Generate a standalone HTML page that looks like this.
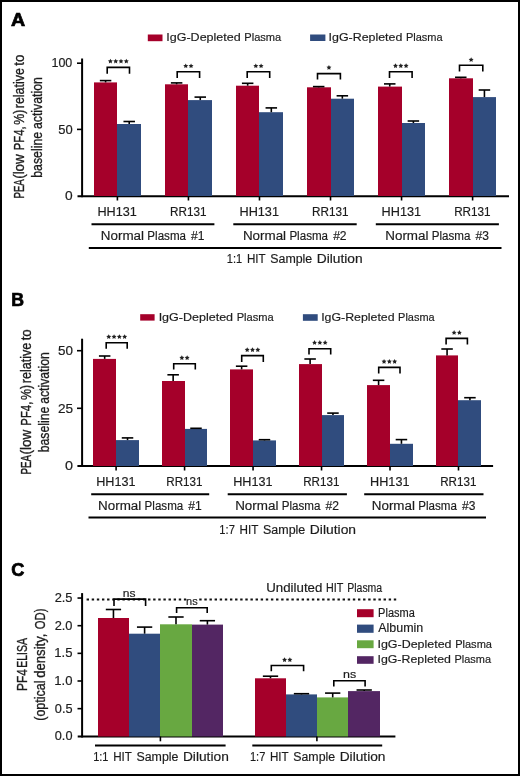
<!DOCTYPE html>
<html><head><meta charset="utf-8"><style>
html,body{margin:0;padding:0;background:#fff;}
body{width:520px;height:776px;overflow:hidden;}
svg{display:block;font-family:"Liberation Sans", sans-serif;}
text{filter:grayscale(1);}
</style></head><body>
<svg width="520" height="776" viewBox="0 0 520 776">
<rect x="0" y="0" width="520" height="776" fill="#fff"/>
<text x="10.93" y="26.30" font-size="18" font-weight="bold" fill="#000" stroke="#000" stroke-width="0.7" textLength="14.19" lengthAdjust="spacingAndGlyphs">A</text>
<rect x="147.80" y="34.50" width="14.70" height="6.70" fill="#a5002a"/>
<text x="166.25" y="40.90" font-size="11.8" fill="#1c1c1c" stroke="#1c1c1c" stroke-width="0.18" textLength="74.45" lengthAdjust="spacingAndGlyphs">IgG-Depleted</text>
<text x="244.29" y="40.90" font-size="11.8" fill="#1c1c1c" stroke="#1c1c1c" stroke-width="0.18" textLength="37.00" lengthAdjust="spacingAndGlyphs">Plasma</text>
<rect x="310.10" y="34.50" width="15.30" height="6.50" fill="#304c7e"/>
<text x="328.56" y="40.90" font-size="11.8" fill="#1c1c1c" stroke="#1c1c1c" stroke-width="0.18" textLength="73.80" lengthAdjust="spacingAndGlyphs">IgG-Repleted</text>
<text x="405.91" y="40.90" font-size="11.8" fill="#1c1c1c" stroke="#1c1c1c" stroke-width="0.18" textLength="36.68" lengthAdjust="spacingAndGlyphs">Plasma</text>
<text x="24.30" y="198.60" font-size="15" fill="#1c1c1c" stroke="#1c1c1c" stroke-width="0.35" textLength="19.44" lengthAdjust="spacingAndGlyphs" transform="rotate(-90 24.30 198.60)">PEA</text>
<text x="24.30" y="178.82" font-size="15" fill="#1c1c1c" stroke="#1c1c1c" stroke-width="0.35" textLength="24.60" lengthAdjust="spacingAndGlyphs" transform="rotate(-90 24.30 178.82)">(low</text>
<text x="24.30" y="150.23" font-size="15" fill="#1c1c1c" stroke="#1c1c1c" stroke-width="0.35" textLength="23.74" lengthAdjust="spacingAndGlyphs" transform="rotate(-90 24.30 150.23)">PF4,</text>
<text x="24.30" y="124.74" font-size="15" fill="#1c1c1c" stroke="#1c1c1c" stroke-width="0.35" textLength="15.04" lengthAdjust="spacingAndGlyphs" transform="rotate(-90 24.30 124.74)">%)</text>
<text x="24.30" y="108.20" font-size="15" fill="#1c1c1c" stroke="#1c1c1c" stroke-width="0.35" textLength="40.10" lengthAdjust="spacingAndGlyphs" transform="rotate(-90 24.30 108.20)">relative</text>
<text x="24.30" y="65.75" font-size="15" fill="#1c1c1c" stroke="#1c1c1c" stroke-width="0.35" textLength="10.99" lengthAdjust="spacingAndGlyphs" transform="rotate(-90 24.30 65.75)">to</text>
<text x="42.20" y="177.79" font-size="15" fill="#1c1c1c" stroke="#1c1c1c" stroke-width="0.35" textLength="45.93" lengthAdjust="spacingAndGlyphs" transform="rotate(-90 42.20 177.79)">baseline</text>
<text x="42.20" y="129.02" font-size="15" fill="#1c1c1c" stroke="#1c1c1c" stroke-width="0.35" textLength="51.91" lengthAdjust="spacingAndGlyphs" transform="rotate(-90 42.20 129.02)">activation</text>
<line x1="82.10" y1="58.50" x2="82.10" y2="197.20" stroke="#000" stroke-width="2"/>
<line x1="77.50" y1="196.30" x2="509.00" y2="196.30" stroke="#000" stroke-width="2"/>
<line x1="77.00" y1="63.20" x2="82.00" y2="63.20" stroke="#000" stroke-width="1.6"/>
<line x1="77.00" y1="129.40" x2="82.00" y2="129.40" stroke="#000" stroke-width="1.6"/>
<text x="51.45" y="67.00" font-size="12" fill="#1c1c1c" stroke="#1c1c1c" stroke-width="0.18" textLength="20.83" lengthAdjust="spacingAndGlyphs">100</text>
<text x="58.28" y="133.50" font-size="12" fill="#1c1c1c" stroke="#1c1c1c" stroke-width="0.18" textLength="14.41" lengthAdjust="spacingAndGlyphs">50</text>
<text x="65.06" y="199.60" font-size="12" fill="#1c1c1c" stroke="#1c1c1c" stroke-width="0.18" textLength="7.66" lengthAdjust="spacingAndGlyphs">0</text>
<rect x="94.00" y="82.40" width="23.00" height="113.60" fill="#a5002a"/>
<rect x="117.00" y="124.00" width="24.00" height="72.00" fill="#304c7e"/>
<line x1="105.58" y1="82.40" x2="105.58" y2="80.60" stroke="#000" stroke-width="1.6"/>
<line x1="99.83" y1="80.60" x2="111.33" y2="80.60" stroke="#000" stroke-width="1.6"/>
<line x1="129.22" y1="124.00" x2="129.22" y2="121.50" stroke="#000" stroke-width="1.6"/>
<line x1="123.47" y1="121.50" x2="134.97" y2="121.50" stroke="#000" stroke-width="1.6"/>
<line x1="117.40" y1="196.00" x2="117.40" y2="200.50" stroke="#000" stroke-width="1.6"/>
<text x="97.46" y="216.20" font-size="12.5" fill="#1c1c1c" stroke="#1c1c1c" stroke-width="0.18" textLength="39.44" lengthAdjust="spacingAndGlyphs">HH131</text>
<polyline points="107.20,73.80 107.20,67.40 129.50,67.40 129.50,73.80" fill="none" stroke="#000" stroke-width="1.6"/>
<polygon points="110.40,58.70 111.16,60.25 112.87,60.50 111.64,61.70 111.93,63.40 110.40,62.60 108.87,63.40 109.16,61.70 107.93,60.50 109.64,60.25" fill="#222"/>
<polygon points="115.70,58.70 116.46,60.25 118.17,60.50 116.94,61.70 117.23,63.40 115.70,62.60 114.17,63.40 114.46,61.70 113.23,60.50 114.94,60.25" fill="#222"/>
<polygon points="121.00,58.70 121.76,60.25 123.47,60.50 122.24,61.70 122.53,63.40 121.00,62.60 119.47,63.40 119.76,61.70 118.53,60.50 120.24,60.25" fill="#222"/>
<polygon points="126.30,58.70 127.06,60.25 128.77,60.50 127.54,61.70 127.83,63.40 126.30,62.60 124.77,63.40 125.06,61.70 123.83,60.50 125.54,60.25" fill="#222"/>
<rect x="165.00" y="84.30" width="23.00" height="111.70" fill="#a5002a"/>
<rect x="188.00" y="100.10" width="24.00" height="95.90" fill="#304c7e"/>
<line x1="176.62" y1="84.30" x2="176.62" y2="82.90" stroke="#000" stroke-width="1.6"/>
<line x1="170.87" y1="82.90" x2="182.37" y2="82.90" stroke="#000" stroke-width="1.6"/>
<line x1="200.26" y1="100.10" x2="200.26" y2="97.10" stroke="#000" stroke-width="1.6"/>
<line x1="194.51" y1="97.10" x2="206.01" y2="97.10" stroke="#000" stroke-width="1.6"/>
<line x1="188.44" y1="196.00" x2="188.44" y2="200.50" stroke="#000" stroke-width="1.6"/>
<text x="169.98" y="216.20" font-size="12.5" fill="#1c1c1c" stroke="#1c1c1c" stroke-width="0.18" textLength="36.52" lengthAdjust="spacingAndGlyphs">RR131</text>
<polyline points="177.20,77.90 177.20,71.80 199.60,71.80 199.60,77.90" fill="none" stroke="#000" stroke-width="1.6"/>
<polygon points="185.75,63.40 186.51,64.95 188.22,65.20 186.99,66.40 187.28,68.10 185.75,67.30 184.22,68.10 184.51,66.40 183.28,65.20 184.99,64.95" fill="#222"/>
<polygon points="191.05,63.40 191.81,64.95 193.52,65.20 192.29,66.40 192.58,68.10 191.05,67.30 189.52,68.10 189.81,66.40 188.58,65.20 190.29,64.95" fill="#222"/>
<rect x="236.00" y="85.70" width="23.00" height="110.30" fill="#a5002a"/>
<rect x="259.00" y="112.20" width="24.00" height="83.80" fill="#304c7e"/>
<line x1="247.66" y1="85.70" x2="247.66" y2="83.30" stroke="#000" stroke-width="1.6"/>
<line x1="241.91" y1="83.30" x2="253.41" y2="83.30" stroke="#000" stroke-width="1.6"/>
<line x1="271.31" y1="112.20" x2="271.31" y2="107.90" stroke="#000" stroke-width="1.6"/>
<line x1="265.56" y1="107.90" x2="277.06" y2="107.90" stroke="#000" stroke-width="1.6"/>
<line x1="259.48" y1="196.00" x2="259.48" y2="200.50" stroke="#000" stroke-width="1.6"/>
<text x="239.54" y="216.20" font-size="12.5" fill="#1c1c1c" stroke="#1c1c1c" stroke-width="0.18" textLength="39.44" lengthAdjust="spacingAndGlyphs">HH131</text>
<polyline points="247.20,78.10 247.20,71.80 269.70,71.80 269.70,78.10" fill="none" stroke="#000" stroke-width="1.6"/>
<polygon points="255.80,63.40 256.56,64.95 258.27,65.20 257.04,66.40 257.33,68.10 255.80,67.30 254.27,68.10 254.56,66.40 253.33,65.20 255.04,64.95" fill="#222"/>
<polygon points="261.10,63.40 261.86,64.95 263.57,65.20 262.34,66.40 262.63,68.10 261.10,67.30 259.57,68.10 259.86,66.40 258.63,65.20 260.34,64.95" fill="#222"/>
<rect x="307.00" y="87.30" width="24.00" height="108.70" fill="#a5002a"/>
<rect x="331.00" y="98.70" width="23.00" height="97.30" fill="#304c7e"/>
<line x1="318.69" y1="87.30" x2="318.69" y2="86.60" stroke="#000" stroke-width="1.6"/>
<line x1="312.94" y1="86.60" x2="324.44" y2="86.60" stroke="#000" stroke-width="1.6"/>
<line x1="342.34" y1="98.70" x2="342.34" y2="95.80" stroke="#000" stroke-width="1.6"/>
<line x1="336.59" y1="95.80" x2="348.09" y2="95.80" stroke="#000" stroke-width="1.6"/>
<line x1="330.52" y1="196.00" x2="330.52" y2="200.50" stroke="#000" stroke-width="1.6"/>
<text x="312.06" y="216.20" font-size="12.5" fill="#1c1c1c" stroke="#1c1c1c" stroke-width="0.18" textLength="36.52" lengthAdjust="spacingAndGlyphs">RR131</text>
<polyline points="317.50,79.60 317.50,73.60 340.40,73.60 340.40,79.60" fill="none" stroke="#000" stroke-width="1.6"/>
<polygon points="328.95,65.00 329.71,66.55 331.42,66.80 330.19,68.00 330.48,69.70 328.95,68.90 327.42,69.70 327.71,68.00 326.48,66.80 328.19,66.55" fill="#222"/>
<rect x="378.00" y="86.60" width="24.00" height="109.40" fill="#a5002a"/>
<rect x="402.00" y="123.00" width="23.00" height="73.00" fill="#304c7e"/>
<line x1="389.74" y1="86.60" x2="389.74" y2="83.90" stroke="#000" stroke-width="1.6"/>
<line x1="383.99" y1="83.90" x2="395.49" y2="83.90" stroke="#000" stroke-width="1.6"/>
<line x1="413.39" y1="123.00" x2="413.39" y2="121.00" stroke="#000" stroke-width="1.6"/>
<line x1="407.64" y1="121.00" x2="419.14" y2="121.00" stroke="#000" stroke-width="1.6"/>
<line x1="401.56" y1="196.00" x2="401.56" y2="200.50" stroke="#000" stroke-width="1.6"/>
<text x="381.62" y="216.20" font-size="12.5" fill="#1c1c1c" stroke="#1c1c1c" stroke-width="0.18" textLength="39.44" lengthAdjust="spacingAndGlyphs">HH131</text>
<polyline points="389.50,78.10 389.50,71.80 412.10,71.80 412.10,78.10" fill="none" stroke="#000" stroke-width="1.6"/>
<polygon points="395.50,63.30 396.26,64.85 397.97,65.10 396.74,66.30 397.03,68.00 395.50,67.20 393.97,68.00 394.26,66.30 393.03,65.10 394.74,64.85" fill="#222"/>
<polygon points="400.80,63.30 401.56,64.85 403.27,65.10 402.04,66.30 402.33,68.00 400.80,67.20 399.27,68.00 399.56,66.30 398.33,65.10 400.04,64.85" fill="#222"/>
<polygon points="406.10,63.30 406.86,64.85 408.57,65.10 407.34,66.30 407.63,68.00 406.10,67.20 404.57,68.00 404.86,66.30 403.63,65.10 405.34,64.85" fill="#222"/>
<rect x="449.00" y="78.30" width="24.00" height="117.70" fill="#a5002a"/>
<rect x="473.00" y="97.10" width="23.00" height="98.90" fill="#304c7e"/>
<line x1="460.78" y1="78.30" x2="460.78" y2="77.30" stroke="#000" stroke-width="1.6"/>
<line x1="455.03" y1="77.30" x2="466.53" y2="77.30" stroke="#000" stroke-width="1.6"/>
<line x1="484.43" y1="97.10" x2="484.43" y2="90.00" stroke="#000" stroke-width="1.6"/>
<line x1="478.68" y1="90.00" x2="490.18" y2="90.00" stroke="#000" stroke-width="1.6"/>
<line x1="472.60" y1="196.00" x2="472.60" y2="200.50" stroke="#000" stroke-width="1.6"/>
<text x="454.14" y="216.20" font-size="12.5" fill="#1c1c1c" stroke="#1c1c1c" stroke-width="0.18" textLength="36.52" lengthAdjust="spacingAndGlyphs">RR131</text>
<polyline points="459.50,71.50 459.50,65.20 482.80,65.20 482.80,71.50" fill="none" stroke="#000" stroke-width="1.6"/>
<polygon points="471.15,57.20 471.91,58.75 473.62,59.00 472.39,60.20 472.68,61.90 471.15,61.10 469.62,61.90 469.91,60.20 468.68,59.00 470.39,58.75" fill="#222"/>
<line x1="91.50" y1="224.20" x2="214.40" y2="224.20" stroke="#000" stroke-width="2"/>
<text x="100.85" y="239.80" font-size="12.5" fill="#1c1c1c" stroke="#1c1c1c" stroke-width="0.18" textLength="43.22" lengthAdjust="spacingAndGlyphs">Normal</text>
<text x="147.34" y="239.80" font-size="12.5" fill="#1c1c1c" stroke="#1c1c1c" stroke-width="0.18" textLength="38.68" lengthAdjust="spacingAndGlyphs">Plasma</text>
<text x="191.09" y="239.80" font-size="12.5" fill="#1c1c1c" stroke="#1c1c1c" stroke-width="0.18" textLength="13.44" lengthAdjust="spacingAndGlyphs">#1</text>
<line x1="233.30" y1="224.20" x2="356.70" y2="224.20" stroke="#000" stroke-width="2"/>
<text x="242.90" y="239.80" font-size="12.5" fill="#1c1c1c" stroke="#1c1c1c" stroke-width="0.18" textLength="43.22" lengthAdjust="spacingAndGlyphs">Normal</text>
<text x="289.39" y="239.80" font-size="12.5" fill="#1c1c1c" stroke="#1c1c1c" stroke-width="0.18" textLength="38.68" lengthAdjust="spacingAndGlyphs">Plasma</text>
<text x="333.14" y="239.80" font-size="12.5" fill="#1c1c1c" stroke="#1c1c1c" stroke-width="0.18" textLength="13.47" lengthAdjust="spacingAndGlyphs">#2</text>
<line x1="375.80" y1="224.20" x2="498.90" y2="224.20" stroke="#000" stroke-width="2"/>
<text x="385.25" y="239.80" font-size="12.5" fill="#1c1c1c" stroke="#1c1c1c" stroke-width="0.18" textLength="43.22" lengthAdjust="spacingAndGlyphs">Normal</text>
<text x="431.74" y="239.80" font-size="12.5" fill="#1c1c1c" stroke="#1c1c1c" stroke-width="0.18" textLength="38.68" lengthAdjust="spacingAndGlyphs">Plasma</text>
<text x="475.49" y="239.80" font-size="12.5" fill="#1c1c1c" stroke="#1c1c1c" stroke-width="0.18" textLength="13.38" lengthAdjust="spacingAndGlyphs">#3</text>
<line x1="88.80" y1="247.90" x2="501.50" y2="247.90" stroke="#000" stroke-width="2"/>
<text x="226.86" y="263.40" font-size="12.5" fill="#1c1c1c" stroke="#1c1c1c" stroke-width="0.18" textLength="15.37" lengthAdjust="spacingAndGlyphs">1:1</text>
<text x="246.95" y="263.40" font-size="12.5" fill="#1c1c1c" stroke="#1c1c1c" stroke-width="0.18" textLength="18.72" lengthAdjust="spacingAndGlyphs">HIT</text>
<text x="270.24" y="263.40" font-size="12.5" fill="#1c1c1c" stroke="#1c1c1c" stroke-width="0.18" textLength="42.00" lengthAdjust="spacingAndGlyphs">Sample</text>
<text x="316.77" y="263.40" font-size="12.5" fill="#1c1c1c" stroke="#1c1c1c" stroke-width="0.18" textLength="45.91" lengthAdjust="spacingAndGlyphs">Dilution</text>
<text x="11.13" y="306.30" font-size="18" font-weight="bold" fill="#000" stroke="#000" stroke-width="0.7" textLength="12.77" lengthAdjust="spacingAndGlyphs">B</text>
<rect x="140.20" y="314.20" width="14.40" height="6.40" fill="#a5002a"/>
<text x="158.65" y="321.00" font-size="11.8" fill="#1c1c1c" stroke="#1c1c1c" stroke-width="0.18" textLength="74.45" lengthAdjust="spacingAndGlyphs">IgG-Depleted</text>
<text x="236.69" y="321.00" font-size="11.8" fill="#1c1c1c" stroke="#1c1c1c" stroke-width="0.18" textLength="37.00" lengthAdjust="spacingAndGlyphs">Plasma</text>
<rect x="302.90" y="314.20" width="14.80" height="6.60" fill="#304c7e"/>
<text x="321.16" y="321.00" font-size="11.8" fill="#1c1c1c" stroke="#1c1c1c" stroke-width="0.18" textLength="73.40" lengthAdjust="spacingAndGlyphs">IgG-Repleted</text>
<text x="398.11" y="321.00" font-size="11.8" fill="#1c1c1c" stroke="#1c1c1c" stroke-width="0.18" textLength="36.48" lengthAdjust="spacingAndGlyphs">Plasma</text>
<text x="31.40" y="474.50" font-size="15" fill="#1c1c1c" stroke="#1c1c1c" stroke-width="0.35" textLength="19.63" lengthAdjust="spacingAndGlyphs" transform="rotate(-90 31.40 474.50)">PEA</text>
<text x="31.40" y="454.53" font-size="15" fill="#1c1c1c" stroke="#1c1c1c" stroke-width="0.35" textLength="24.84" lengthAdjust="spacingAndGlyphs" transform="rotate(-90 31.40 454.53)">(low</text>
<text x="31.40" y="425.66" font-size="15" fill="#1c1c1c" stroke="#1c1c1c" stroke-width="0.35" textLength="23.97" lengthAdjust="spacingAndGlyphs" transform="rotate(-90 31.40 425.66)">PF4,</text>
<text x="31.40" y="399.92" font-size="15" fill="#1c1c1c" stroke="#1c1c1c" stroke-width="0.35" textLength="15.19" lengthAdjust="spacingAndGlyphs" transform="rotate(-90 31.40 399.92)">%)</text>
<text x="31.40" y="383.22" font-size="15" fill="#1c1c1c" stroke="#1c1c1c" stroke-width="0.35" textLength="40.49" lengthAdjust="spacingAndGlyphs" transform="rotate(-90 31.40 383.22)">relative</text>
<text x="31.40" y="340.36" font-size="15" fill="#1c1c1c" stroke="#1c1c1c" stroke-width="0.35" textLength="11.10" lengthAdjust="spacingAndGlyphs" transform="rotate(-90 31.40 340.36)">to</text>
<text x="49.00" y="452.28" font-size="15" fill="#1c1c1c" stroke="#1c1c1c" stroke-width="0.35" textLength="45.66" lengthAdjust="spacingAndGlyphs" transform="rotate(-90 49.00 452.28)">baseline</text>
<text x="49.00" y="403.81" font-size="15" fill="#1c1c1c" stroke="#1c1c1c" stroke-width="0.35" textLength="51.60" lengthAdjust="spacingAndGlyphs" transform="rotate(-90 49.00 403.81)">activation</text>
<line x1="82.10" y1="338.70" x2="82.10" y2="467.00" stroke="#000" stroke-width="2"/>
<line x1="77.40" y1="466.10" x2="493.10" y2="466.10" stroke="#000" stroke-width="2"/>
<line x1="77.00" y1="350.70" x2="82.00" y2="350.70" stroke="#000" stroke-width="1.6"/>
<line x1="77.00" y1="408.30" x2="82.00" y2="408.30" stroke="#000" stroke-width="1.6"/>
<text x="58.06" y="354.80" font-size="12" fill="#1c1c1c" stroke="#1c1c1c" stroke-width="0.18" textLength="14.95" lengthAdjust="spacingAndGlyphs">50</text>
<text x="57.92" y="412.60" font-size="12" fill="#1c1c1c" stroke="#1c1c1c" stroke-width="0.18" textLength="15.14" lengthAdjust="spacingAndGlyphs">25</text>
<text x="65.04" y="470.10" font-size="12" fill="#1c1c1c" stroke="#1c1c1c" stroke-width="0.18" textLength="8.01" lengthAdjust="spacingAndGlyphs">0</text>
<rect x="93.00" y="358.90" width="23.00" height="107.10" fill="#a5002a"/>
<rect x="116.00" y="440.10" width="23.00" height="25.90" fill="#304c7e"/>
<line x1="104.67" y1="358.90" x2="104.67" y2="356.00" stroke="#000" stroke-width="1.6"/>
<line x1="98.92" y1="356.00" x2="110.42" y2="356.00" stroke="#000" stroke-width="1.6"/>
<line x1="127.52" y1="440.10" x2="127.52" y2="437.90" stroke="#000" stroke-width="1.6"/>
<line x1="121.77" y1="437.90" x2="133.27" y2="437.90" stroke="#000" stroke-width="1.6"/>
<line x1="116.10" y1="466.00" x2="116.10" y2="470.50" stroke="#000" stroke-width="1.6"/>
<text x="96.21" y="486.20" font-size="12.5" fill="#1c1c1c" stroke="#1c1c1c" stroke-width="0.18" textLength="39.34" lengthAdjust="spacingAndGlyphs">HH131</text>
<polyline points="106.20,348.80 106.20,342.80 127.20,342.80 127.20,348.80" fill="none" stroke="#000" stroke-width="1.6"/>
<polygon points="108.75,334.20 109.51,335.75 111.22,336.00 109.99,337.20 110.28,338.90 108.75,338.10 107.22,338.90 107.51,337.20 106.28,336.00 107.99,335.75" fill="#222"/>
<polygon points="114.05,334.20 114.81,335.75 116.52,336.00 115.29,337.20 115.58,338.90 114.05,338.10 112.52,338.90 112.81,337.20 111.58,336.00 113.29,335.75" fill="#222"/>
<polygon points="119.35,334.20 120.11,335.75 121.82,336.00 120.59,337.20 120.88,338.90 119.35,338.10 117.82,338.90 118.11,337.20 116.88,336.00 118.59,335.75" fill="#222"/>
<polygon points="124.65,334.20 125.41,335.75 127.12,336.00 125.89,337.20 126.18,338.90 124.65,338.10 123.12,338.90 123.41,337.20 122.18,336.00 123.89,335.75" fill="#222"/>
<rect x="162.00" y="381.00" width="23.00" height="85.00" fill="#a5002a"/>
<rect x="185.00" y="428.90" width="22.00" height="37.10" fill="#304c7e"/>
<line x1="173.15" y1="381.00" x2="173.15" y2="374.80" stroke="#000" stroke-width="1.6"/>
<line x1="167.40" y1="374.80" x2="178.90" y2="374.80" stroke="#000" stroke-width="1.6"/>
<line x1="196.00" y1="428.90" x2="196.00" y2="428.30" stroke="#000" stroke-width="1.6"/>
<line x1="190.25" y1="428.30" x2="201.75" y2="428.30" stroke="#000" stroke-width="1.6"/>
<line x1="184.58" y1="466.00" x2="184.58" y2="470.50" stroke="#000" stroke-width="1.6"/>
<text x="166.22" y="486.20" font-size="12.5" fill="#1c1c1c" stroke="#1c1c1c" stroke-width="0.18" textLength="36.31" lengthAdjust="spacingAndGlyphs">RR131</text>
<polyline points="173.70,369.40 173.70,363.80 195.30,363.80 195.30,369.40" fill="none" stroke="#000" stroke-width="1.6"/>
<polygon points="181.85,355.30 182.61,356.85 184.32,357.10 183.09,358.30 183.38,360.00 181.85,359.20 180.32,360.00 180.61,358.30 179.38,357.10 181.09,356.85" fill="#222"/>
<polygon points="187.15,355.30 187.91,356.85 189.62,357.10 188.39,358.30 188.68,360.00 187.15,359.20 185.62,360.00 185.91,358.30 184.68,357.10 186.39,356.85" fill="#222"/>
<rect x="230.00" y="369.40" width="23.00" height="96.60" fill="#a5002a"/>
<rect x="253.00" y="440.40" width="23.00" height="25.60" fill="#304c7e"/>
<line x1="241.63" y1="369.40" x2="241.63" y2="366.20" stroke="#000" stroke-width="1.6"/>
<line x1="235.88" y1="366.20" x2="247.38" y2="366.20" stroke="#000" stroke-width="1.6"/>
<line x1="264.49" y1="440.40" x2="264.49" y2="439.70" stroke="#000" stroke-width="1.6"/>
<line x1="258.74" y1="439.70" x2="270.24" y2="439.70" stroke="#000" stroke-width="1.6"/>
<line x1="253.06" y1="466.00" x2="253.06" y2="470.50" stroke="#000" stroke-width="1.6"/>
<text x="233.17" y="486.20" font-size="12.5" fill="#1c1c1c" stroke="#1c1c1c" stroke-width="0.18" textLength="39.34" lengthAdjust="spacingAndGlyphs">HH131</text>
<polyline points="241.70,362.00 241.70,355.60 263.30,355.60 263.30,362.00" fill="none" stroke="#000" stroke-width="1.6"/>
<polygon points="247.20,347.30 247.96,348.85 249.67,349.10 248.44,350.30 248.73,352.00 247.20,351.20 245.67,352.00 245.96,350.30 244.73,349.10 246.44,348.85" fill="#222"/>
<polygon points="252.50,347.30 253.26,348.85 254.97,349.10 253.74,350.30 254.03,352.00 252.50,351.20 250.97,352.00 251.26,350.30 250.03,349.10 251.74,348.85" fill="#222"/>
<polygon points="257.80,347.30 258.56,348.85 260.27,349.10 259.04,350.30 259.33,352.00 257.80,351.20 256.27,352.00 256.56,350.30 255.33,349.10 257.04,348.85" fill="#222"/>
<rect x="299.00" y="364.10" width="23.00" height="101.90" fill="#a5002a"/>
<rect x="322.00" y="415.10" width="22.00" height="50.90" fill="#304c7e"/>
<line x1="310.11" y1="364.10" x2="310.11" y2="359.00" stroke="#000" stroke-width="1.6"/>
<line x1="304.36" y1="359.00" x2="315.86" y2="359.00" stroke="#000" stroke-width="1.6"/>
<line x1="332.96" y1="415.10" x2="332.96" y2="413.10" stroke="#000" stroke-width="1.6"/>
<line x1="327.21" y1="413.10" x2="338.71" y2="413.10" stroke="#000" stroke-width="1.6"/>
<line x1="321.54" y1="466.00" x2="321.54" y2="470.50" stroke="#000" stroke-width="1.6"/>
<text x="303.18" y="486.20" font-size="12.5" fill="#1c1c1c" stroke="#1c1c1c" stroke-width="0.18" textLength="36.31" lengthAdjust="spacingAndGlyphs">RR131</text>
<polyline points="309.00,354.50 309.00,348.70 330.70,348.70 330.70,354.50" fill="none" stroke="#000" stroke-width="1.6"/>
<polygon points="314.55,340.10 315.31,341.65 317.02,341.90 315.79,343.10 316.08,344.80 314.55,344.00 313.02,344.80 313.31,343.10 312.08,341.90 313.79,341.65" fill="#222"/>
<polygon points="319.85,340.10 320.61,341.65 322.32,341.90 321.09,343.10 321.38,344.80 319.85,344.00 318.32,344.80 318.61,343.10 317.38,341.90 319.09,341.65" fill="#222"/>
<polygon points="325.15,340.10 325.91,341.65 327.62,341.90 326.39,343.10 326.68,344.80 325.15,344.00 323.62,344.80 323.91,343.10 322.68,341.90 324.39,341.65" fill="#222"/>
<rect x="367.00" y="385.10" width="23.00" height="80.90" fill="#a5002a"/>
<rect x="390.00" y="443.80" width="23.00" height="22.20" fill="#304c7e"/>
<line x1="378.59" y1="385.10" x2="378.59" y2="380.30" stroke="#000" stroke-width="1.6"/>
<line x1="372.84" y1="380.30" x2="384.34" y2="380.30" stroke="#000" stroke-width="1.6"/>
<line x1="401.44" y1="443.80" x2="401.44" y2="439.60" stroke="#000" stroke-width="1.6"/>
<line x1="395.69" y1="439.60" x2="407.19" y2="439.60" stroke="#000" stroke-width="1.6"/>
<line x1="390.02" y1="466.00" x2="390.02" y2="470.50" stroke="#000" stroke-width="1.6"/>
<text x="370.13" y="486.20" font-size="12.5" fill="#1c1c1c" stroke="#1c1c1c" stroke-width="0.18" textLength="39.34" lengthAdjust="spacingAndGlyphs">HH131</text>
<polyline points="378.70,373.50 378.70,367.40 400.00,367.40 400.00,373.50" fill="none" stroke="#000" stroke-width="1.6"/>
<polygon points="384.05,359.00 384.81,360.55 386.52,360.80 385.29,362.00 385.58,363.70 384.05,362.90 382.52,363.70 382.81,362.00 381.58,360.80 383.29,360.55" fill="#222"/>
<polygon points="389.35,359.00 390.11,360.55 391.82,360.80 390.59,362.00 390.88,363.70 389.35,362.90 387.82,363.70 388.11,362.00 386.88,360.80 388.59,360.55" fill="#222"/>
<polygon points="394.65,359.00 395.41,360.55 397.12,360.80 395.89,362.00 396.18,363.70 394.65,362.90 393.12,363.70 393.41,362.00 392.18,360.80 393.89,360.55" fill="#222"/>
<rect x="436.00" y="355.40" width="22.00" height="110.60" fill="#a5002a"/>
<rect x="458.00" y="400.20" width="23.00" height="65.80" fill="#304c7e"/>
<line x1="447.07" y1="355.40" x2="447.07" y2="349.00" stroke="#000" stroke-width="1.6"/>
<line x1="441.32" y1="349.00" x2="452.82" y2="349.00" stroke="#000" stroke-width="1.6"/>
<line x1="469.93" y1="400.20" x2="469.93" y2="397.70" stroke="#000" stroke-width="1.6"/>
<line x1="464.18" y1="397.70" x2="475.68" y2="397.70" stroke="#000" stroke-width="1.6"/>
<line x1="458.50" y1="466.00" x2="458.50" y2="470.50" stroke="#000" stroke-width="1.6"/>
<text x="440.14" y="486.20" font-size="12.5" fill="#1c1c1c" stroke="#1c1c1c" stroke-width="0.18" textLength="36.31" lengthAdjust="spacingAndGlyphs">RR131</text>
<polyline points="446.10,344.50 446.10,338.40 467.40,338.40 467.40,344.50" fill="none" stroke="#000" stroke-width="1.6"/>
<polygon points="454.10,330.10 454.86,331.65 456.57,331.90 455.34,333.10 455.63,334.80 454.10,334.00 452.57,334.80 452.86,333.10 451.63,331.90 453.34,331.65" fill="#222"/>
<polygon points="459.40,330.10 460.16,331.65 461.87,331.90 460.64,333.10 460.93,334.80 459.40,334.00 457.87,334.80 458.16,333.10 456.93,331.90 458.64,331.65" fill="#222"/>
<line x1="91.20" y1="494.20" x2="209.20" y2="494.20" stroke="#000" stroke-width="2"/>
<text x="98.10" y="510.00" font-size="12.5" fill="#1c1c1c" stroke="#1c1c1c" stroke-width="0.18" textLength="43.22" lengthAdjust="spacingAndGlyphs">Normal</text>
<text x="144.59" y="510.00" font-size="12.5" fill="#1c1c1c" stroke="#1c1c1c" stroke-width="0.18" textLength="38.68" lengthAdjust="spacingAndGlyphs">Plasma</text>
<text x="188.34" y="510.00" font-size="12.5" fill="#1c1c1c" stroke="#1c1c1c" stroke-width="0.18" textLength="13.44" lengthAdjust="spacingAndGlyphs">#1</text>
<line x1="227.70" y1="494.20" x2="346.90" y2="494.20" stroke="#000" stroke-width="2"/>
<text x="235.20" y="510.00" font-size="12.5" fill="#1c1c1c" stroke="#1c1c1c" stroke-width="0.18" textLength="43.22" lengthAdjust="spacingAndGlyphs">Normal</text>
<text x="281.69" y="510.00" font-size="12.5" fill="#1c1c1c" stroke="#1c1c1c" stroke-width="0.18" textLength="38.68" lengthAdjust="spacingAndGlyphs">Plasma</text>
<text x="325.44" y="510.00" font-size="12.5" fill="#1c1c1c" stroke="#1c1c1c" stroke-width="0.18" textLength="13.47" lengthAdjust="spacingAndGlyphs">#2</text>
<line x1="364.20" y1="494.20" x2="483.50" y2="494.20" stroke="#000" stroke-width="2"/>
<text x="371.75" y="510.00" font-size="12.5" fill="#1c1c1c" stroke="#1c1c1c" stroke-width="0.18" textLength="43.22" lengthAdjust="spacingAndGlyphs">Normal</text>
<text x="418.24" y="510.00" font-size="12.5" fill="#1c1c1c" stroke="#1c1c1c" stroke-width="0.18" textLength="38.68" lengthAdjust="spacingAndGlyphs">Plasma</text>
<text x="461.99" y="510.00" font-size="12.5" fill="#1c1c1c" stroke="#1c1c1c" stroke-width="0.18" textLength="13.38" lengthAdjust="spacingAndGlyphs">#3</text>
<line x1="88.50" y1="517.50" x2="486.00" y2="517.50" stroke="#000" stroke-width="2"/>
<text x="219.35" y="534.00" font-size="12.5" fill="#1c1c1c" stroke="#1c1c1c" stroke-width="0.18" textLength="15.50" lengthAdjust="spacingAndGlyphs">1:7</text>
<text x="239.58" y="534.00" font-size="12.5" fill="#1c1c1c" stroke="#1c1c1c" stroke-width="0.18" textLength="18.84" lengthAdjust="spacingAndGlyphs">HIT</text>
<text x="263.03" y="534.00" font-size="12.5" fill="#1c1c1c" stroke="#1c1c1c" stroke-width="0.18" textLength="42.28" lengthAdjust="spacingAndGlyphs">Sample</text>
<text x="309.87" y="534.00" font-size="12.5" fill="#1c1c1c" stroke="#1c1c1c" stroke-width="0.18" textLength="46.22" lengthAdjust="spacingAndGlyphs">Dilution</text>
<text x="11.35" y="576.20" font-size="18" font-weight="bold" fill="#000" stroke="#000" stroke-width="0.7" textLength="13.14" lengthAdjust="spacingAndGlyphs">C</text>
<text x="27.40" y="690.88" font-size="15" fill="#1c1c1c" stroke="#1c1c1c" stroke-width="0.35" textLength="21.82" lengthAdjust="spacingAndGlyphs" transform="rotate(-90 27.40 690.88)">PF4</text>
<text x="27.40" y="667.76" font-size="15" fill="#1c1c1c" stroke="#1c1c1c" stroke-width="0.35" textLength="29.78" lengthAdjust="spacingAndGlyphs" transform="rotate(-90 27.40 667.76)">ELISA</text>
<text x="44.80" y="720.77" font-size="15" fill="#1c1c1c" stroke="#1c1c1c" stroke-width="0.35" textLength="40.20" lengthAdjust="spacingAndGlyphs" transform="rotate(-90 44.80 720.77)">(optical</text>
<text x="44.80" y="677.65" font-size="15" fill="#1c1c1c" stroke="#1c1c1c" stroke-width="0.35" textLength="44.02" lengthAdjust="spacingAndGlyphs" transform="rotate(-90 44.80 677.65)">density,</text>
<text x="44.80" y="629.23" font-size="15" fill="#1c1c1c" stroke="#1c1c1c" stroke-width="0.35" textLength="20.63" lengthAdjust="spacingAndGlyphs" transform="rotate(-90 44.80 629.23)">OD)</text>
<line x1="82.10" y1="593.10" x2="82.10" y2="737.50" stroke="#000" stroke-width="2"/>
<line x1="77.70" y1="736.50" x2="395.40" y2="736.50" stroke="#000" stroke-width="2"/>
<line x1="77.50" y1="598.05" x2="82.00" y2="598.05" stroke="#000" stroke-width="1.6"/>
<line x1="77.50" y1="625.70" x2="82.00" y2="625.70" stroke="#000" stroke-width="1.6"/>
<line x1="77.50" y1="653.35" x2="82.00" y2="653.35" stroke="#000" stroke-width="1.6"/>
<line x1="77.50" y1="681.00" x2="82.00" y2="681.00" stroke="#000" stroke-width="1.6"/>
<line x1="77.50" y1="708.65" x2="82.00" y2="708.65" stroke="#000" stroke-width="1.6"/>
<text x="54.66" y="602.15" font-size="12" fill="#1c1c1c" stroke="#1c1c1c" stroke-width="0.18" textLength="17.87" lengthAdjust="spacingAndGlyphs">2.5</text>
<text x="54.66" y="629.80" font-size="12" fill="#1c1c1c" stroke="#1c1c1c" stroke-width="0.18" textLength="17.83" lengthAdjust="spacingAndGlyphs">2.0</text>
<text x="54.30" y="657.45" font-size="12" fill="#1c1c1c" stroke="#1c1c1c" stroke-width="0.18" textLength="18.24" lengthAdjust="spacingAndGlyphs">1.5</text>
<text x="54.31" y="685.10" font-size="12" fill="#1c1c1c" stroke="#1c1c1c" stroke-width="0.18" textLength="18.19" lengthAdjust="spacingAndGlyphs">1.0</text>
<text x="54.80" y="712.75" font-size="12" fill="#1c1c1c" stroke="#1c1c1c" stroke-width="0.18" textLength="17.72" lengthAdjust="spacingAndGlyphs">0.5</text>
<text x="54.80" y="740.40" font-size="12" fill="#1c1c1c" stroke="#1c1c1c" stroke-width="0.18" textLength="17.68" lengthAdjust="spacingAndGlyphs">0.0</text>
<line x1="86.6" y1="599.5" x2="396.5" y2="599.5" stroke="#111" stroke-width="2" stroke-dasharray="2.4 2.72"/>
<text x="266.28" y="591.60" font-size="12" fill="#1c1c1c" stroke="#1c1c1c" stroke-width="0.18" textLength="56.07" lengthAdjust="spacingAndGlyphs">Undiluted</text>
<text x="325.92" y="591.60" font-size="12" fill="#1c1c1c" stroke="#1c1c1c" stroke-width="0.18" textLength="17.33" lengthAdjust="spacingAndGlyphs">HIT</text>
<text x="347.24" y="591.60" font-size="12" fill="#1c1c1c" stroke="#1c1c1c" stroke-width="0.18" textLength="34.95" lengthAdjust="spacingAndGlyphs">Plasma</text>
<rect x="98.00" y="618.00" width="31.00" height="118.50" fill="#a5002a"/>
<line x1="113.45" y1="618.00" x2="113.45" y2="609.50" stroke="#000" stroke-width="1.6"/>
<line x1="105.80" y1="609.50" x2="121.10" y2="609.50" stroke="#000" stroke-width="1.6"/>
<rect x="129.00" y="633.70" width="31.00" height="102.80" fill="#304c7e"/>
<line x1="144.60" y1="633.70" x2="144.60" y2="627.10" stroke="#000" stroke-width="1.6"/>
<line x1="136.95" y1="627.10" x2="152.25" y2="627.10" stroke="#000" stroke-width="1.6"/>
<rect x="160.00" y="624.30" width="32.00" height="112.20" fill="#68a841"/>
<line x1="176.00" y1="624.30" x2="176.00" y2="617.00" stroke="#000" stroke-width="1.6"/>
<line x1="168.35" y1="617.00" x2="183.65" y2="617.00" stroke="#000" stroke-width="1.6"/>
<rect x="192.00" y="624.60" width="31.00" height="111.90" fill="#532663"/>
<line x1="207.40" y1="624.60" x2="207.40" y2="620.70" stroke="#000" stroke-width="1.6"/>
<line x1="199.75" y1="620.70" x2="215.05" y2="620.70" stroke="#000" stroke-width="1.6"/>
<rect x="255.00" y="678.30" width="31.00" height="58.20" fill="#a5002a"/>
<line x1="270.50" y1="678.30" x2="270.50" y2="676.20" stroke="#000" stroke-width="1.6"/>
<line x1="262.85" y1="676.20" x2="278.15" y2="676.20" stroke="#000" stroke-width="1.6"/>
<rect x="286.00" y="694.40" width="31.00" height="42.10" fill="#304c7e"/>
<line x1="301.50" y1="694.40" x2="301.50" y2="693.70" stroke="#000" stroke-width="1.6"/>
<line x1="293.85" y1="693.70" x2="309.15" y2="693.70" stroke="#000" stroke-width="1.6"/>
<rect x="317.00" y="697.40" width="31.00" height="39.10" fill="#68a841"/>
<line x1="332.70" y1="697.40" x2="332.70" y2="693.10" stroke="#000" stroke-width="1.6"/>
<line x1="325.05" y1="693.10" x2="340.35" y2="693.10" stroke="#000" stroke-width="1.6"/>
<rect x="348.00" y="691.10" width="32.00" height="45.40" fill="#532663"/>
<line x1="364.20" y1="691.10" x2="364.20" y2="690.00" stroke="#000" stroke-width="1.6"/>
<line x1="356.55" y1="690.00" x2="371.85" y2="690.00" stroke="#000" stroke-width="1.6"/>
<line x1="160.40" y1="736.50" x2="160.40" y2="741.30" stroke="#000" stroke-width="1.6"/>
<line x1="316.90" y1="736.50" x2="316.90" y2="741.30" stroke="#000" stroke-width="1.6"/>
<polyline points="114.00,605.90 114.00,599.10 145.60,599.10 145.60,605.90" fill="none" stroke="#000" stroke-width="1.6"/>
<text x="122.80" y="596.60" font-size="11.5" fill="#1c1c1c" stroke="#1c1c1c" stroke-width="0.18" textLength="12.73" lengthAdjust="spacingAndGlyphs">ns</text>
<polyline points="176.60,613.10 176.60,607.70 207.20,607.70 207.20,613.10" fill="none" stroke="#000" stroke-width="1.6"/>
<rect x="186.60" y="597.60" width="11.40" height="8.00" fill="#fff"/>
<text x="186.07" y="604.60" font-size="11.5" fill="#1c1c1c" stroke="#1c1c1c" stroke-width="0.18" textLength="11.62" lengthAdjust="spacingAndGlyphs">ns</text>
<polyline points="271.30,671.30 271.30,665.50 303.60,665.50 303.60,671.30" fill="none" stroke="#000" stroke-width="1.6"/>
<polygon points="284.55,657.30 285.31,658.85 287.02,659.10 285.79,660.30 286.08,662.00 284.55,661.20 283.02,662.00 283.31,660.30 282.08,659.10 283.79,658.85" fill="#222"/>
<polygon points="289.85,657.30 290.61,658.85 292.32,659.10 291.09,660.30 291.38,662.00 289.85,661.20 288.32,662.00 288.61,660.30 287.38,659.10 289.09,658.85" fill="#222"/>
<polyline points="333.80,686.50 333.80,680.80 365.10,680.80 365.10,686.50" fill="none" stroke="#000" stroke-width="1.6"/>
<text x="342.98" y="677.70" font-size="11.5" fill="#1c1c1c" stroke="#1c1c1c" stroke-width="0.18" textLength="13.17" lengthAdjust="spacingAndGlyphs">ns</text>
<line x1="95.00" y1="745.40" x2="225.60" y2="745.40" stroke="#000" stroke-width="2"/>
<line x1="252.30" y1="745.40" x2="382.20" y2="745.40" stroke="#000" stroke-width="2"/>
<text x="93.16" y="761.40" font-size="12.5" fill="#1c1c1c" stroke="#1c1c1c" stroke-width="0.18" textLength="15.35" lengthAdjust="spacingAndGlyphs">1:1</text>
<text x="113.22" y="761.40" font-size="12.5" fill="#1c1c1c" stroke="#1c1c1c" stroke-width="0.18" textLength="18.69" lengthAdjust="spacingAndGlyphs">HIT</text>
<text x="136.48" y="761.40" font-size="12.5" fill="#1c1c1c" stroke="#1c1c1c" stroke-width="0.18" textLength="41.94" lengthAdjust="spacingAndGlyphs">Sample</text>
<text x="182.94" y="761.40" font-size="12.5" fill="#1c1c1c" stroke="#1c1c1c" stroke-width="0.18" textLength="45.84" lengthAdjust="spacingAndGlyphs">Dilution</text>
<text x="249.96" y="761.30" font-size="12.5" fill="#1c1c1c" stroke="#1c1c1c" stroke-width="0.18" textLength="15.36" lengthAdjust="spacingAndGlyphs">1:7</text>
<text x="270.00" y="761.30" font-size="12.5" fill="#1c1c1c" stroke="#1c1c1c" stroke-width="0.18" textLength="18.68" lengthAdjust="spacingAndGlyphs">HIT</text>
<text x="293.25" y="761.30" font-size="12.5" fill="#1c1c1c" stroke="#1c1c1c" stroke-width="0.18" textLength="41.90" lengthAdjust="spacingAndGlyphs">Sample</text>
<text x="339.67" y="761.30" font-size="12.5" fill="#1c1c1c" stroke="#1c1c1c" stroke-width="0.18" textLength="45.81" lengthAdjust="spacingAndGlyphs">Dilution</text>
<rect x="357.00" y="609.20" width="16.60" height="8.00" fill="#a5002a"/>
<text x="378.10" y="616.60" font-size="12" fill="#1c1c1c" stroke="#1c1c1c" stroke-width="0.18" textLength="36.70" lengthAdjust="spacingAndGlyphs">Plasma</text>
<rect x="357.00" y="624.60" width="16.60" height="8.20" fill="#304c7e"/>
<text x="378.28" y="632.10" font-size="12" fill="#1c1c1c" stroke="#1c1c1c" stroke-width="0.18" textLength="45.02" lengthAdjust="spacingAndGlyphs">Albumin</text>
<rect x="357.00" y="640.30" width="16.60" height="7.90" fill="#68a841"/>
<text x="377.45" y="647.80" font-size="11.8" fill="#1c1c1c" stroke="#1c1c1c" stroke-width="0.18" textLength="74.12" lengthAdjust="spacingAndGlyphs">IgG-Depleted</text>
<text x="455.15" y="647.80" font-size="11.8" fill="#1c1c1c" stroke="#1c1c1c" stroke-width="0.18" textLength="36.84" lengthAdjust="spacingAndGlyphs">Plasma</text>
<rect x="357.00" y="656.20" width="16.60" height="7.60" fill="#532663"/>
<text x="377.46" y="663.40" font-size="11.8" fill="#1c1c1c" stroke="#1c1c1c" stroke-width="0.18" textLength="73.47" lengthAdjust="spacingAndGlyphs">IgG-Repleted</text>
<text x="454.48" y="663.40" font-size="11.8" fill="#1c1c1c" stroke="#1c1c1c" stroke-width="0.18" textLength="36.52" lengthAdjust="spacingAndGlyphs">Plasma</text>
<rect x="1" y="1" width="518" height="774" fill="none" stroke="#000" stroke-width="2"/>
</svg>
</body></html>
